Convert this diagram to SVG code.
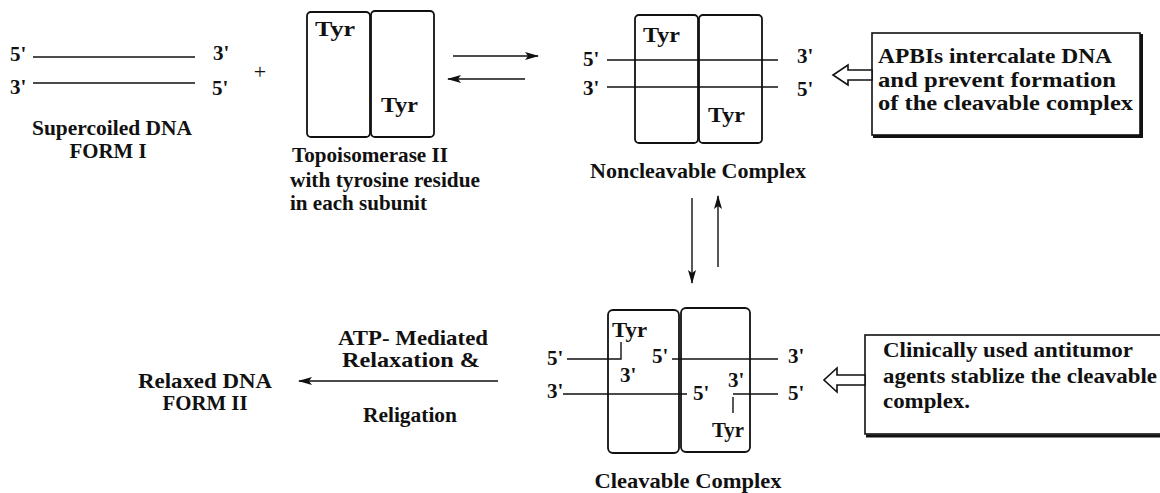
<svg xmlns="http://www.w3.org/2000/svg" width="1160" height="493" viewBox="0 0 1160 493">
<style>
text{font-family:"Liberation Serif","Times New Roman",serif;font-weight:bold;fill:#111;font-size:21px}
.sm{font-size:20px}
.lg{font-size:22px}
.sub{fill:#fff;stroke:#111;stroke-width:1.8}
.dna{stroke:#111;stroke-width:1.4;fill:none}
.conn{stroke:#111;stroke-width:1.4;fill:none}
.hol{fill:#fff;stroke:#111;stroke-width:1.6;stroke-linejoin:miter}
.box{fill:#fff;stroke:#111;stroke-width:1.6}
.shadow{fill:none;stroke:#111;stroke-width:3}
</style>
<defs>
<marker id="ah" viewBox="0 0 14 8" refX="13" refY="4" markerWidth="14" markerHeight="8" markerUnits="userSpaceOnUse" orient="auto">
<path d="M0,0 L14,4 L0,8 L3,4 Z" fill="#111"/>
</marker>
</defs>

<g id="supercoiled-dna">
<text x="10" y="61">5'</text>
<line class="dna" x1="33" y1="57" x2="195" y2="57"/>
<text x="213" y="60">3'</text>
<text x="10" y="94">3'</text>
<line class="dna" x1="33" y1="83" x2="195" y2="83"/>
<text x="212" y="95">5'</text>
<text x="112" y="135" text-anchor="middle" textLength="160" lengthAdjust="spacingAndGlyphs">Supercoiled DNA</text>
<text x="108" y="158" text-anchor="middle" textLength="77" lengthAdjust="spacingAndGlyphs">FORM I</text>
</g>

<g id="plus">
<text x="260" y="79" text-anchor="middle" style="font-size:22px;font-weight:normal">+</text>
</g>

<g id="topoisomerase">
<rect class="sub" x="307" y="12" width="63" height="125" rx="4"/>
<rect class="sub" x="371" y="11" width="63" height="126" rx="4"/>
<text class="sm" x="315" y="36" textLength="40" lengthAdjust="spacingAndGlyphs">Tyr</text>
<text class="sm" x="381" y="112" textLength="37" lengthAdjust="spacingAndGlyphs">Tyr</text>
<text x="292" y="162" textLength="156" lengthAdjust="spacingAndGlyphs">Topoisomerase II</text>
<text x="290" y="187" textLength="190" lengthAdjust="spacingAndGlyphs">with tyrosine residue</text>
<text x="290" y="210" textLength="137" lengthAdjust="spacingAndGlyphs">in each subunit</text>
</g>

<g id="noncleavable-complex">
<rect class="sub" x="635" y="15" width="63" height="128" rx="4"/>
<rect class="sub" x="699" y="15" width="63" height="128" rx="4"/>
<line class="dna" x1="607" y1="60" x2="778" y2="60"/>
<line class="dna" x1="607" y1="87" x2="778" y2="87"/>
<text class="sm" x="643" y="42" textLength="37" lengthAdjust="spacingAndGlyphs">Tyr</text>
<text class="sm" x="708" y="122" textLength="37" lengthAdjust="spacingAndGlyphs">Tyr</text>
<text x="583" y="66">5'</text>
<text x="583" y="95">3'</text>
<text x="797" y="63">3'</text>
<text x="797" y="96">5'</text>
<text class="lg" x="698" y="178" text-anchor="middle" textLength="216" lengthAdjust="spacingAndGlyphs">Noncleavable Complex</text>
</g>

<g id="apbi-note">
<polyline class="shadow" points="1141.5,34 1141.5,136.5 873,136.5"/>
<rect class="box" x="872" y="33" width="268" height="102"/>
<text x="878" y="63" textLength="234" lengthAdjust="spacingAndGlyphs" style="font-size:22px">APBIs intercalate DNA</text>
<text x="878" y="87" textLength="238" lengthAdjust="spacingAndGlyphs" style="font-size:22px">and prevent formation</text>
<text x="878" y="110" textLength="255" lengthAdjust="spacingAndGlyphs" style="font-size:22px">of the cleavable complex</text>
</g>

<g id="cleavable-complex">
<rect class="sub" x="608" y="310" width="71" height="143" rx="5"/>
<rect class="sub" x="681" y="308" width="69" height="144" rx="5"/>
<text class="sm" x="612" y="337" textLength="35" lengthAdjust="spacingAndGlyphs">Tyr</text>
<polyline class="dna" points="621,342 621,359 567,359"/>
<text x="547" y="365">5'</text>
<text x="620" y="382">3'</text>
<text x="652" y="363">5'</text>
<line class="dna" x1="672" y1="359" x2="778" y2="359"/>
<text x="788" y="363">3'</text>
<text x="547" y="398">3'</text>
<line class="dna" x1="563" y1="394" x2="687" y2="394"/>
<text x="693" y="400">5'</text>
<text x="728" y="387">3'</text>
<line class="dna" x1="733" y1="394" x2="778" y2="394"/>
<line class="dna" x1="733" y1="397" x2="733" y2="413"/>
<text class="sm" x="712" y="437" textLength="32" lengthAdjust="spacingAndGlyphs">Tyr</text>
<text x="788" y="400">5'</text>
<text class="lg" x="688" y="488" text-anchor="middle" textLength="187" lengthAdjust="spacingAndGlyphs">Cleavable Complex</text>
</g>

<g id="clinical-note">
<polyline class="shadow" points="866,436 1165,436"/>
<rect class="box" x="865" y="335" width="300" height="99"/>
<text x="883" y="357" textLength="250" lengthAdjust="spacingAndGlyphs">Clinically used antitumor</text>
<text x="883" y="383" textLength="274" lengthAdjust="spacingAndGlyphs">agents stablize the cleavable</text>
<text x="883" y="408" textLength="87" lengthAdjust="spacingAndGlyphs">complex.</text>
</g>

<g id="relaxed-dna">
<text x="205" y="388" text-anchor="middle" textLength="134" lengthAdjust="spacingAndGlyphs">Relaxed DNA</text>
<text x="205" y="410" text-anchor="middle" textLength="85" lengthAdjust="spacingAndGlyphs">FORM II</text>
</g>

<g id="relaxation-label">
<text x="413" y="345" text-anchor="middle" textLength="150" lengthAdjust="spacingAndGlyphs">ATP- Mediated</text>
<text x="411" y="367" text-anchor="middle" textLength="138" lengthAdjust="spacingAndGlyphs">Relaxation &amp;</text>
<text x="410" y="422" text-anchor="middle" textLength="94" lengthAdjust="spacingAndGlyphs">Religation</text>
</g>

<g id="connectors">
<line class="conn" x1="453" y1="56" x2="538" y2="56" marker-end="url(#ah)"/>
<line class="conn" x1="525" y1="79" x2="448" y2="79" marker-end="url(#ah)"/>
<line class="conn" x1="692" y1="198" x2="692" y2="283" marker-end="url(#ah)"/>
<line class="conn" x1="718" y1="267" x2="718" y2="196" marker-end="url(#ah)"/>
<line class="conn" x1="498" y1="381" x2="299" y2="381" marker-end="url(#ah)"/>
<polygon class="hol" points="872,70 848,70 848,65 833,75 848,85 848,80 872,80"/>
<polygon class="hol" points="865,375 837,375 837,368 824,380 837,392 837,385 865,385"/>
</g>
</svg>
